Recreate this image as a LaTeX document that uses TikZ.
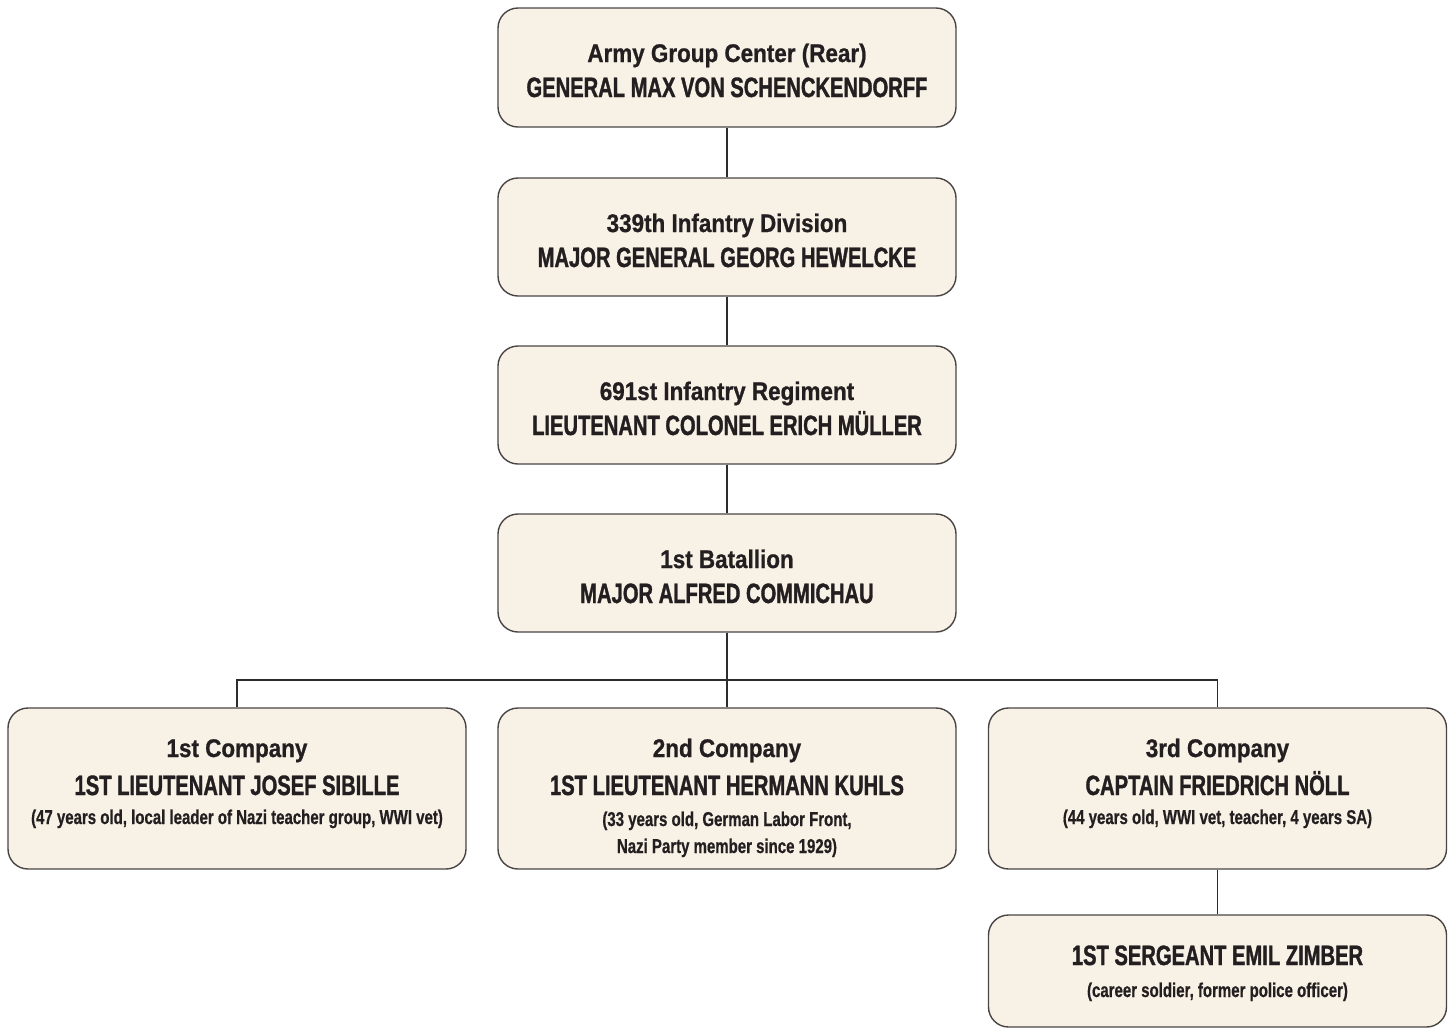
\documentclass[tikz,border=0pt]{standalone}
\usepackage{fontspec}
\setmainfont{Liberation Sans}
\newfontfamily\headfam{Liberation Sans}[FakeStretch=0.88,FakeBold=0.8]
\newfontfamily\namefam{Liberation Sans}[FakeStretch=0.72,FakeBold=1.2]
\newfontfamily\smallfam{Liberation Sans}[FakeStretch=0.75,FakeBold=0.6]
\definecolor{boxfill}{HTML}{F8F1E6}
\definecolor{boxline}{HTML}{4A4545}
\definecolor{ink}{HTML}{231F20}
\definecolor{wire}{HTML}{2E2B2B}
\tikzset{
  orgbox/.style={draw=boxline, fill=boxfill, line width=1.4pt, rounded corners=20pt, inner sep=0pt, minimum width=458pt},
  headtxt/.style={anchor=base, inner sep=0pt, text=ink, font=\headfam\bfseries\fontsize{25.5}{30}\selectfont},
  nametxt/.style={anchor=base, inner sep=0pt, text=ink, font=\namefam\bfseries\fontsize{28}{32}\selectfont},
  smalltxt/.style={anchor=base, inner sep=0pt, text=ink, font=\smallfam\bfseries\fontsize{20}{24}\selectfont},
  wireline/.style={draw=wire, line width=1.2pt}
}
\begin{document}
\begin{tikzpicture}[x=1pt, y=-1pt]
\useasboundingbox (0,0) rectangle (1452,1029);
% boxes
\node[orgbox, minimum height=119pt] (top) at (727,67.5) {};
\node[orgbox, minimum height=118pt] (div) at (727,237) {};
\node[orgbox, minimum height=118pt] (reg) at (727,405) {};
\node[orgbox, minimum height=118pt] (bat) at (727,573) {};
\node[orgbox, minimum height=161pt] (c1) at (237,788.5) {};
\node[orgbox, minimum height=161pt] (c2) at (727,788.5) {};
\node[orgbox, minimum height=161pt] (c3) at (1217.5,788.5) {};
\node[orgbox, minimum height=112pt] (zim) at (1217.5,971) {};
% connectors
\coordinate (bus) at (727,680);
\draw[wireline] (top.south) -- (div.north);
\draw[wireline] (div.south) -- (reg.north);
\draw[wireline] (reg.south) -- (bat.north);
\draw[wireline] (bat.south) -- (c2.north);
\draw[wireline] (bus) -| (c1.north);
\draw[wireline] (bus) -| (c3.north);
\draw[wireline] (c3.south) -- (zim.north);
% texts
\node[headtxt] (t1a) at (727,62) {Army Group Center (Rear)};
\node[nametxt] (t1b) at (727,97) {GENERAL MAX VON SCHENCKENDORFF};
\node[headtxt] (t2a) at (727,232) {339th Infantry Division};
\node[nametxt] (t2b) at (727,267) {MAJOR GENERAL GEORG HEWELCKE};
\node[headtxt] (t3a) at (727,400) {691st Infantry Regiment};
\node[nametxt] (t3b) at (727,435) {LIEUTENANT COLONEL ERICH MÜLLER};
\node[headtxt] (t4a) at (727,568) {1st Batallion};
\node[nametxt] (t4b) at (727,603) {MAJOR ALFRED COMMICHAU};
\node[headtxt] (c1a) at (237,757) {1st Company};
\node[nametxt] (c1b) at (237,795) {1ST LIEUTENANT JOSEF SIBILLE};
\node[smalltxt] (c1c) at (237,824) {(47 years old, local leader of Nazi teacher group, WWI vet)};
\node[headtxt] (c2a) at (727,757) {2nd Company};
\node[nametxt] (c2b) at (727,795) {1ST LIEUTENANT HERMANN KUHLS};
\node[smalltxt] (c2c) at (727,826) {(33 years old, German Labor Front,};
\node[smalltxt] (c2d) at (727,853) {Nazi Party member since 1929)};
\node[headtxt] (c3a) at (1217.5,757) {3rd Company};
\node[nametxt] (c3b) at (1217.5,795) {CAPTAIN FRIEDRICH NÖLL};
\node[smalltxt] (c3c) at (1217.5,824) {(44 years old, WWI vet, teacher, 4 years SA)};
\node[nametxt] (za) at (1217.5,965) {1ST SERGEANT EMIL ZIMBER};
\node[smalltxt] (zb) at (1217.5,997) {(career soldier, former police officer)};
\end{tikzpicture}
\end{document}
